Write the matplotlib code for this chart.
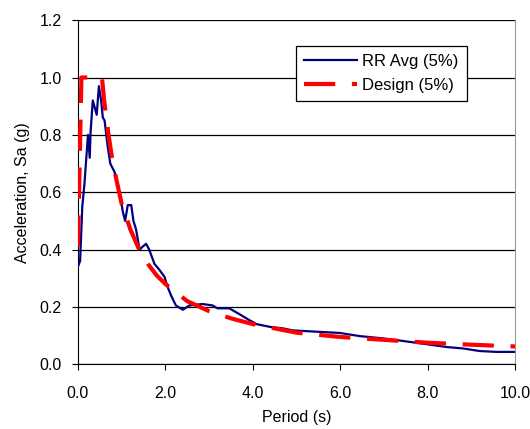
import matplotlib.pyplot as plt

plt.rcParams['font.family'] = ['Liberation Sans', 'DejaVu Sans']

# RR average spectrum (5% damping)
rr_period = [0.0, 0.05, 0.1, 0.15, 0.23, 0.27, 0.29, 0.34, 0.43, 0.48, 0.53, 0.57,
             0.61, 0.68, 0.74, 0.84, 0.95, 1.03, 1.08, 1.14, 1.22, 1.27, 1.33, 1.41,
             1.48, 1.56, 1.63, 1.75, 1.86, 1.98, 2.05, 2.13, 2.24, 2.40, 2.55, 2.85,
             3.08, 3.19, 3.46, 3.69, 3.93, 4.08, 4.40, 4.69, 4.91, 5.28, 5.99, 6.45,
             6.98, 7.29, 7.97, 8.43, 8.81, 9.19, 9.57, 10.0]
rr_sa = [0.34, 0.36, 0.55, 0.63, 0.80, 0.72, 0.81, 0.92, 0.87, 0.97, 0.92, 0.86,
         0.85, 0.76, 0.70, 0.67, 0.60, 0.53, 0.50, 0.555, 0.555, 0.50, 0.47, 0.40,
         0.41, 0.42, 0.40, 0.35, 0.33, 0.305, 0.27, 0.24, 0.205, 0.19, 0.205, 0.21,
         0.205, 0.195, 0.195, 0.175, 0.153, 0.14, 0.13, 0.125, 0.118, 0.115, 0.109, 0.098,
         0.09, 0.084, 0.07, 0.06, 0.055, 0.046, 0.043, 0.043]

# design spectrum (5% damping)
design_period = [0.0, 0.08, 0.55, 0.6, 0.7, 0.8, 0.9, 1.0, 1.2, 1.4, 1.6, 1.8, 2.0,
                 2.5, 3.0, 3.5, 4.0, 5.0, 6.0, 7.0, 8.0, 9.0, 10.0]
design_sa = [0.41, 1.0, 1.0, 0.92, 0.80, 0.70, 0.63, 0.56, 0.47, 0.40, 0.35, 0.31, 0.28,
             0.22, 0.185, 0.16, 0.14, 0.11, 0.095, 0.085, 0.075, 0.068, 0.062]

x_ticks = [0, 2, 4, 6, 8, 10]
y_ticks = [0.0, 0.2, 0.4, 0.6, 0.8, 1.0, 1.2]

fig = plt.figure(figsize=(5.3, 4.29), dpi=100)
ax = fig.add_axes([0.147, 0.151, 0.825, 0.802])

ax.plot(rr_period, rr_sa, color='#000080', lw=1.6, label='RR Avg (5%)', zorder=3)
ax.plot(design_period, design_sa, color='#ff0000', lw=3.0, dashes=(7.5, 4),
        label='Design (5%)', zorder=4)

ax.set_xlim(0, 10)
ax.set_ylim(0, 1.2)
ax.set_xticks(x_ticks)
ax.set_xticklabels([f'{v:.1f}' for v in x_ticks])
ax.set_yticks(y_ticks)
ax.set_yticklabels([f'{v:.1f}' for v in y_ticks])
ax.yaxis.grid(True, color='black', lw=0.9)
ax.set_axisbelow(True)
ax.tick_params(direction='out', length=4.5, labelsize=11.5, color='black')
ax.tick_params(axis='x', pad=11)
ax.tick_params(axis='y', pad=7)

ax.spines['top'].set_visible(False)
ax.spines['right'].set_color('#999999')
ax.spines['left'].set_color('black')
ax.spines['bottom'].set_color('black')

ax.set_xlabel('Period (s)', fontsize=11.5, labelpad=7)
ax.set_ylabel('Acceleration, Sa (g)', fontsize=11.5, labelpad=7)

leg = ax.legend(loc='upper right', bbox_to_anchor=(0.890, 0.925), fontsize=12,
                fancybox=False, edgecolor='black', framealpha=1, handlelength=3.2,
                handletextpad=0.3, borderpad=0.5, labelspacing=0.5,
                borderaxespad=0)
leg.get_frame().set_linewidth(0.9)

fig.savefig('out.png', dpi=100)
